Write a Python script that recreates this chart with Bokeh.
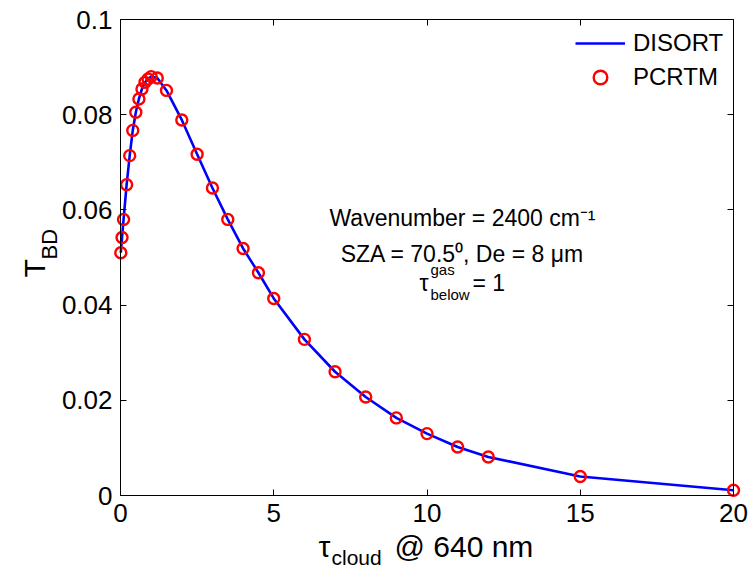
import math
from bokeh.plotting import figure
from bokeh.models import (Range1d, Label, Legend, LegendItem, LinearAxis, FixedTicker,
                          CustomLabelingPolicy)
from bokeh.embed import file_html
from bokeh.resources import INLINE

# ---- data ----
tau_cloud = [0.01, 0.05, 0.1, 0.2, 0.3, 0.4, 0.5, 0.6, 0.7, 0.8, 0.9, 1.0, 1.2, 1.5,
             2.0, 2.5, 3.0, 3.5, 4.0, 4.5, 5.0, 6.0, 7.0, 8.0, 9.0, 10.0, 11.0, 12.0,
             15.0, 20.0]
disort_tbd = [0.0510, 0.0542, 0.0580, 0.0653, 0.0714, 0.0767, 0.0805, 0.0833, 0.0854,
              0.0868, 0.0875, 0.0880, 0.0877, 0.0851, 0.0789, 0.0717, 0.0646, 0.0580,
              0.0519, 0.0468, 0.0414, 0.0328, 0.0260, 0.0207, 0.0163, 0.0130, 0.0102,
              0.0081, 0.0040, 0.0011]
pcrtm_tbd = [0.0510, 0.0542, 0.0580, 0.0653, 0.0714, 0.0767, 0.0805, 0.0833, 0.0854,
             0.0868, 0.0875, 0.0880, 0.0877, 0.0851, 0.0789, 0.0717, 0.0646, 0.0580,
             0.0519, 0.0468, 0.0414, 0.0328, 0.0260, 0.0207, 0.0163, 0.0130, 0.0102,
             0.0081, 0.0040, 0.0011]

x_ticks = [0, 5, 10, 15, 20]
x_tick_labels = ["0", "5", "10", "15", "20"]
y_ticks = [0, 0.02, 0.04, 0.06, 0.08, 0.1]
y_tick_labels = ["0", "0.02", "0.04", "0.06", "0.08", "0.1"]
x_lim = (0, 20)
y_lim = (0, 0.1)

FONT = "Liberation Sans"
TICK_SIZE = "26px"
NOTE_SIZE = "23px"
NOTE_SUB = "15px"

# The frame fills the whole canvas so that the axis-label texts (drawn as
# annotations) are not clipped; the axes are pinned at the data limits.
W, H = 750, 571
AX_L, AX_R, AX_T, AX_B = 120, 733, 19, 495          # pixel box of the axes
px_x = (AX_R - AX_L) / (x_lim[1] - x_lim[0])
px_y = (AX_B - AX_T) / (y_lim[1] - y_lim[0])
x_range = Range1d(x_lim[0] - AX_L / px_x, x_lim[1] + (W - AX_R) / px_x)
y_range = Range1d(y_lim[0] - (H - AX_B) / px_y, y_lim[1] + AX_T / px_y)

p = figure(width=W, height=H, output_backend="svg", toolbar_location=None,
           x_range=x_range, y_range=y_range,
           min_border_left=0, min_border_right=0, min_border_top=0,
           min_border_bottom=0, x_axis_location=None, y_axis_location=None)
p.outline_line_color = None
p.xgrid.visible = False
p.ygrid.visible = False
p.background_fill_color = "white"
p.border_fill_color = "white"


def make_axis(ticks, labels, show_labels, fixed, bounds):
    ax = LinearAxis(fixed_location=fixed, bounds=bounds)
    ax.ticker = FixedTicker(ticks=ticks)
    ax.major_label_overrides = {t: l for t, l in zip(ticks, labels)}
    ax.axis_line_color = "black"
    ax.axis_line_width = 1
    ax.major_tick_line_color = "black"
    ax.major_tick_line_width = 1
    ax.major_tick_in = 6
    ax.major_tick_out = 0
    ax.minor_tick_line_color = None
    ax.major_label_text_font = FONT
    ax.major_label_text_color = "black"
    if show_labels:
        ax.major_label_text_font_size = TICK_SIZE
        ax.major_label_standoff = 8
    else:
        ax.major_label_text_font_size = "1px"
        ax.major_label_standoff = 0
        ax.major_label_policy = CustomLabelingPolicy(
            code="for (const i of indices) indices.unset(i)")
    return ax


p.add_layout(make_axis(x_ticks, x_tick_labels, True, y_lim[0], x_lim), "below")
p.add_layout(make_axis(y_ticks, y_tick_labels, True, x_lim[0], y_lim), "left")
p.add_layout(make_axis(x_ticks, x_tick_labels, False, y_lim[1], x_lim), "above")
p.add_layout(make_axis(y_ticks, y_tick_labels, False, x_lim[1], y_lim), "right")

line_r = p.line(tau_cloud, disort_tbd, line_color="#0000ff", line_width=2.6)
pts_r = p.scatter(tau_cloud, pcrtm_tbd, marker="circle", size=11,
                  line_color="#ff0000", line_width=2.4, fill_color=None)

legend = Legend(items=[LegendItem(label="DISORT", renderers=[line_r]),
                       LegendItem(label="PCRTM", renderers=[pts_r])],
                location="top_right", margin=19, padding=7, spacing=0,
                glyph_width=50, glyph_height=34, label_height=34, label_width=91,
                label_standoff=8, label_text_font=FONT, label_text_font_size="24px",
                label_text_color="black",
                border_line_alpha=0, background_fill_alpha=0)
p.add_layout(legend)


def lab(text, xo, yo, size, align="left", angle=0.0):
    # text anchored at the data origin, shifted by pixel offsets
    p.add_layout(Label(x=x_lim[0], y=y_lim[0], x_offset=xo, y_offset=yo, text=text,
                       text_font=FONT, text_font_size=size, text_color="black",
                       text_align=align, text_baseline="alphabetic", angle=angle))


# y-axis label T_BD (rotated)
lab("T", -86, 218, "30px", angle=math.pi / 2)
lab("BD", -71, 236, "22px", angle=math.pi / 2)

# x-axis label tau_cloud @ 640 nm
lab("τ", 198, -51, "30px")
lab("cloud", 211, -62, "21px")
lab("@ 640 nm", 274, -51, "30px")

# annotation
lab("Wavenumber = 2400 cm⁻¹", 342, 278, NOTE_SIZE, align="center")
lab("SZA = 70.5⁰, De = 8 μm", 342, 242, NOTE_SIZE, align="center")
lab("τ", 299, 213, NOTE_SIZE)
lab("gas", 310, 226, NOTE_SUB)
lab("below", 310, 201, NOTE_SUB)
lab("= 1", 352, 213, NOTE_SIZE)

open("out.html", "w").write(file_html(p, INLINE))
